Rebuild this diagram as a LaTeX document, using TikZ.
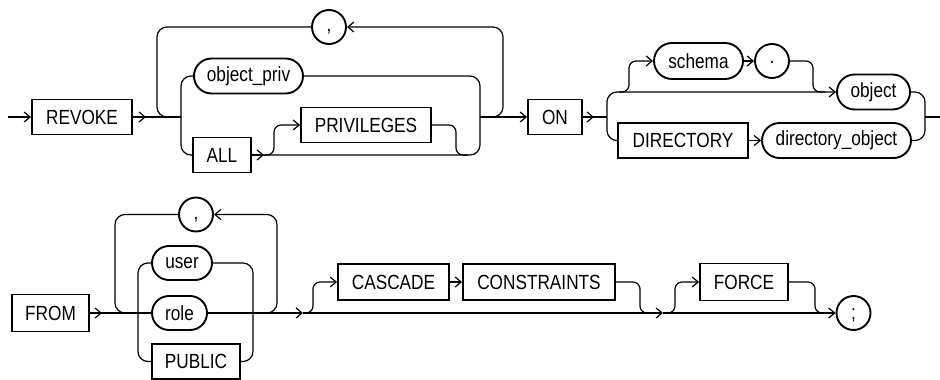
\documentclass[tikz,border=0pt]{standalone}
\usepackage{fontspec}
\setmainfont{Liberation Sans}[FakeStretch=0.84]
\usetikzlibrary{shapes.misc,arrows.meta}
\newcommand{\lowered}[2]{\raisebox{-#1}[0pt][0pt]{#2}}
\tikzset{
  ln/.style={line width=1.2pt, line join=round},
  rc/.style={ln, rounded corners=10pt},
  rcs/.style={ln, rounded corners=7pt},
  arr/.style={-{Straight Barb[length=6pt,width=10pt,line width=1.2pt]}},
  lbl/.style={font=\fontsize{20.5}{20.5}\selectfont},
  kw/.style={lbl, draw, line width=1.9pt, rectangle, minimum height=35pt, inner sep=0pt},
  nt/.style={lbl, draw, line width=1.9pt, rounded rectangle, minimum height=35pt, inner sep=0pt},
  circ/.style={lbl, draw, line width=1.9pt, circle, minimum size=34pt, inner sep=0pt, text height=0pt, text depth=0pt},
}
\begin{document}
\begin{tikzpicture}[x=1pt,y=-1pt]
\useasboundingbox (0,0) rectangle (940,380);
% ---------- row 1 ----------
\node[kw, minimum width=100pt] (REVOKE) at (82,117) {REVOKE};
\node[nt, minimum width=109pt] (objpriv) at (248.5,76) {object\_priv};
\node[kw, minimum width=58pt] (ALL) at (222,155) {ALL};
\node[kw, minimum width=130pt] (PRIV) at (366,125) {PRIVILEGES};
\node[circ] (comma1) at (329,27) {\lowered{4.5pt}{,}};
\node[kw, minimum width=54pt] (ON) at (555,117) {ON};
\node[nt, minimum width=89pt, minimum height=36pt] (schema) at (698.5,61) {schema};
\node[circ] (dot) at (772,61) {\lowered{2pt}{.}};
\node[nt, minimum width=73pt] (object) at (873.5,92) {object};
\node[kw, minimum width=130pt] (DIR) at (683,140.5) {DIRECTORY};
\node[nt, minimum width=149pt] (dirobj) at (836.5,140.5) {directory\_object};

\coordinate (s1) at (8,117);
\coordinate (j1) at (181,117);
\coordinate (jR) at (480,117);
\coordinate (j2) at (607,117);
\coordinate (jE) at (925,117);
\coordinate (e1) at (940,117);

\draw[ln,arr] (s1) -- (REVOKE.west);
\draw[ln] (REVOKE.east) -- (j1);
\draw[ln,arr] (REVOKE.east) -- ++(13,0);
% loop
\draw[rc,arr] (jR) -- (503,117) -- (503,27) -- (comma1.east);
\draw[rc] (comma1.west) -- (157,27) -- (157,117) -- (j1);
% inner choice
\draw[rc] (j1) -- (181,76) -- (objpriv.west);
\draw[rc] (j1) -- (181,155) -- (ALL.west);
\draw[rc] (objpriv.east) -- (480,76) -- (jR);
\draw[rc] (ALL.east) -- (480,155) -- (jR);
\draw[ln,arr] (ALL.east) -- ++(12,0) coordinate (a1);
\draw[rcs,arr] (a1) -- (274,155) -- (274,125) -- (PRIV.west);
\draw[rcs] (PRIV.east) -- (456,125) -- (456,155) -- (468,155);
% ON
\draw[ln,arr] (jR) -- (ON.west);
\draw[ln] (ON.east) -- (j2);
\draw[ln,arr] (ON.east) -- ++(11,0);
% object choice
\draw[rc,arr] (j2) -- (607,92) -- (object.west);
\draw[rcs,arr] (619,92) -- (629,92) -- (629,61) -- (schema.west);
\draw[ln,arr] (schema.east) -- (dot.west);
\draw[rcs] (dot.east) -- (813,61) -- (813,92) -- (825,92);
\draw[rc] (j2) -- (607,140.5) -- (DIR.west);
\draw[ln,arr] (DIR.east) -- (dirobj.west);
\draw[rc] (object.east) -- (925,92) -- (jE);
\draw[rc] (dirobj.east) -- (925,140.5) -- (jE);
\draw[ln] (jE) -- (e1);

% ---------- row 2 ----------
\node[kw, minimum width=77pt, minimum height=37pt] (FROM) at (50.5,313) {FROM};
\node[circ] (comma2) at (196,214.5) {\lowered{4.5pt}{,}};
\node[nt, minimum width=60pt, minimum height=34pt] (user) at (182,263) {user};
\node[nt, minimum width=55pt, minimum height=34pt] (role) at (179.5,313) {role};
\node[kw, minimum width=88pt] (PUBLIC) at (196,361.5) {PUBLIC};
\node[kw, minimum width=111pt, minimum height=36pt] (CASCADE) at (393.5,282) {CASCADE};
\node[kw, minimum width=152pt, minimum height=36pt] (CONSTR) at (539,282) {CONSTRAINTS};
\node[kw, minimum width=88pt, minimum height=37pt] (FORCE) at (744,282) {FORCE};
\node[circ] (semi) at (853.5,313) {\lowered{6.5pt}{;}};

\coordinate (k1) at (138,313);
\coordinate (kR) at (253,313);
\coordinate (b1) at (303,313);
\coordinate (b2) at (663,313);

\draw[ln] (FROM.east) -- (k1);
\draw[ln,arr] (FROM.east) -- ++(12,0);
% loop
\draw[rc,arr] (kR) -- (277,313) -- (277,214.5) -- (comma2.east);
\draw[rc] (comma2.west) -- (115,214.5) -- (115,313) -- (k1);
% choice
\draw[rc] (k1) -- (138,263) -- (user.west);
\draw[ln] (k1) -- (role.west);
\draw[rc] (k1) -- (138,361.5) -- (PUBLIC.west);
\draw[rc] (user.east) -- (253,263) -- (kR);
\draw[rc] (PUBLIC.east) -- (253,361.5) -- (kR);
\draw[ln] (role.east) -- (kR);
% main
\draw[ln,arr] (kR) -- (b1);
\draw[ln,arr] (b1) -- (b2);
\draw[ln,arr] (b2) -- (semi.west);
% CASCADE CONSTRAINTS
\draw[rcs,arr] (b1) -- (313,313) -- (313,282) -- (CASCADE.west);
\draw[ln,arr] (CASCADE.east) -- (CONSTR.west);
\draw[rcs] (CONSTR.east) -- (640,282) -- (640,313) -- (652,313);
% FORCE
\draw[rcs,arr] (b2) -- (675,313) -- (675,282) -- (FORCE.west);
\draw[rcs] (FORCE.east) -- (815,282) -- (815,313) -- (827,313);
\end{tikzpicture}
\end{document}
